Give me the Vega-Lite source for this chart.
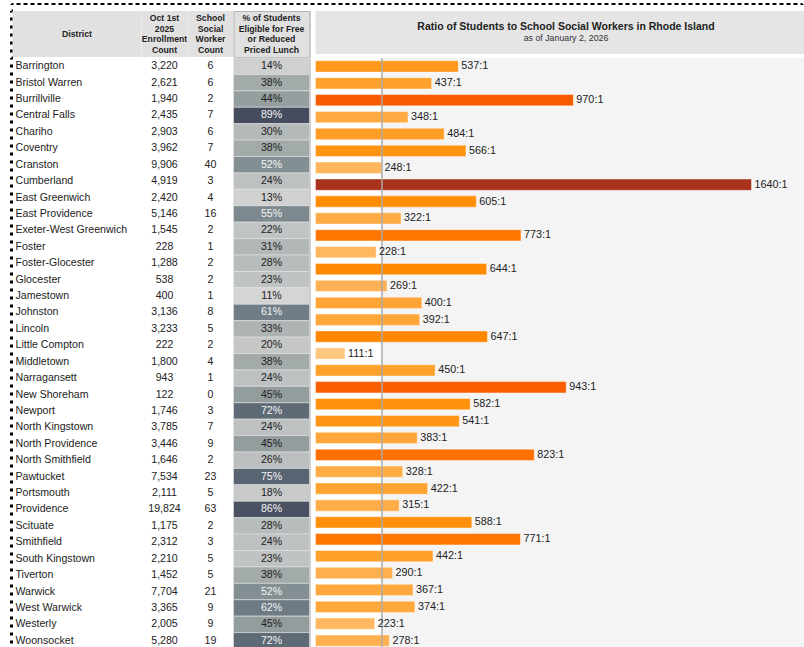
{
  "$schema": "https://vega.github.io/schema/vega-lite/v6.json",
  "padding": {"left": 9.5, "top": 3, "right": 0, "bottom": 0},
  "autosize": {"type": "pad"},
  "background": "white",
  "config": {"view": {"stroke": null}, "font": "Liberation Sans"},
  "datasets": {
    "districts": [
      {"District": "Barrington", "Enrollment": 3220, "Workers": 6, "FRPL": 0.14, "Ratio": 537, "Label": "537:1"},
      {"District": "Bristol Warren", "Enrollment": 2621, "Workers": 6, "FRPL": 0.38, "Ratio": 437, "Label": "437:1"},
      {"District": "Burrillville", "Enrollment": 1940, "Workers": 2, "FRPL": 0.44, "Ratio": 970, "Label": "970:1"},
      {"District": "Central Falls", "Enrollment": 2435, "Workers": 7, "FRPL": 0.89, "Ratio": 348, "Label": "348:1"},
      {"District": "Chariho", "Enrollment": 2903, "Workers": 6, "FRPL": 0.30, "Ratio": 484, "Label": "484:1"},
      {"District": "Coventry", "Enrollment": 3962, "Workers": 7, "FRPL": 0.38, "Ratio": 566, "Label": "566:1"},
      {"District": "Cranston", "Enrollment": 9906, "Workers": 40, "FRPL": 0.52, "Ratio": 248, "Label": "248:1"},
      {"District": "Cumberland", "Enrollment": 4919, "Workers": 3, "FRPL": 0.24, "Ratio": 1640, "Label": "1640:1"},
      {"District": "East Greenwich", "Enrollment": 2420, "Workers": 4, "FRPL": 0.13, "Ratio": 605, "Label": "605:1"},
      {"District": "East Providence", "Enrollment": 5146, "Workers": 16, "FRPL": 0.55, "Ratio": 322, "Label": "322:1"},
      {"District": "Exeter-West Greenwich", "Enrollment": 1545, "Workers": 2, "FRPL": 0.22, "Ratio": 773, "Label": "773:1"},
      {"District": "Foster", "Enrollment": 228, "Workers": 1, "FRPL": 0.31, "Ratio": 228, "Label": "228:1"},
      {"District": "Foster-Glocester", "Enrollment": 1288, "Workers": 2, "FRPL": 0.28, "Ratio": 644, "Label": "644:1"},
      {"District": "Glocester", "Enrollment": 538, "Workers": 2, "FRPL": 0.23, "Ratio": 269, "Label": "269:1"},
      {"District": "Jamestown", "Enrollment": 400, "Workers": 1, "FRPL": 0.11, "Ratio": 400, "Label": "400:1"},
      {"District": "Johnston", "Enrollment": 3136, "Workers": 8, "FRPL": 0.61, "Ratio": 392, "Label": "392:1"},
      {"District": "Lincoln", "Enrollment": 3233, "Workers": 5, "FRPL": 0.33, "Ratio": 647, "Label": "647:1"},
      {"District": "Little Compton", "Enrollment": 222, "Workers": 2, "FRPL": 0.20, "Ratio": 111, "Label": "111:1"},
      {"District": "Middletown", "Enrollment": 1800, "Workers": 4, "FRPL": 0.38, "Ratio": 450, "Label": "450:1"},
      {"District": "Narragansett", "Enrollment": 943, "Workers": 1, "FRPL": 0.24, "Ratio": 943, "Label": "943:1"},
      {"District": "New Shoreham", "Enrollment": 122, "Workers": 0, "FRPL": 0.45, "Ratio": null, "Label": ""},
      {"District": "Newport", "Enrollment": 1746, "Workers": 3, "FRPL": 0.72, "Ratio": 582, "Label": "582:1"},
      {"District": "North Kingstown", "Enrollment": 3785, "Workers": 7, "FRPL": 0.24, "Ratio": 541, "Label": "541:1"},
      {"District": "North Providence", "Enrollment": 3446, "Workers": 9, "FRPL": 0.45, "Ratio": 383, "Label": "383:1"},
      {"District": "North Smithfield", "Enrollment": 1646, "Workers": 2, "FRPL": 0.26, "Ratio": 823, "Label": "823:1"},
      {"District": "Pawtucket", "Enrollment": 7534, "Workers": 23, "FRPL": 0.75, "Ratio": 328, "Label": "328:1"},
      {"District": "Portsmouth", "Enrollment": 2111, "Workers": 5, "FRPL": 0.18, "Ratio": 422, "Label": "422:1"},
      {"District": "Providence", "Enrollment": 19824, "Workers": 63, "FRPL": 0.86, "Ratio": 315, "Label": "315:1"},
      {"District": "Scituate", "Enrollment": 1175, "Workers": 2, "FRPL": 0.28, "Ratio": 588, "Label": "588:1"},
      {"District": "Smithfield", "Enrollment": 2312, "Workers": 3, "FRPL": 0.24, "Ratio": 771, "Label": "771:1"},
      {"District": "South Kingstown", "Enrollment": 2210, "Workers": 5, "FRPL": 0.23, "Ratio": 442, "Label": "442:1"},
      {"District": "Tiverton", "Enrollment": 1452, "Workers": 5, "FRPL": 0.38, "Ratio": 290, "Label": "290:1"},
      {"District": "Warwick", "Enrollment": 7704, "Workers": 21, "FRPL": 0.52, "Ratio": 367, "Label": "367:1"},
      {"District": "West Warwick", "Enrollment": 3365, "Workers": 9, "FRPL": 0.62, "Ratio": 374, "Label": "374:1"},
      {"District": "Westerly", "Enrollment": 2005, "Workers": 9, "FRPL": 0.45, "Ratio": 223, "Label": "223:1"},
      {"District": "Woonsocket", "Enrollment": 5280, "Workers": 19, "FRPL": 0.72, "Ratio": 278, "Label": "278:1"}
    ]
  },
  "spacing": 3,
  "resolve": {"scale": {"color": "independent"}},
  "vconcat": [
    {
      "width": 791, "height": 0.001,
      "data": {"values": []},
      "mark": {"type": "text"},
      "encoding": {"text": {"value": ""}},
      "view": {"stroke": "black", "strokeWidth": 2, "strokeDash": [2, 5]}
    },
    {
      "spacing": -2,
      "resolve": {"scale": {"color": "independent"}},
      "vconcat": [
        {
          "spacing": 0,
          "bounds": "flush",
          "hconcat": [
            {
              "width": 0.001, "height": 40,
              "data": {"values": []},
              "mark": {"type": "text"},
              "encoding": {"text": {"value": ""}},
              "view": {"stroke": "black", "strokeWidth": 3, "strokeDash": [1.5, 6.5]}
            },
            {
              "width": 129, "height": 46,
              "data": {"values": [{"t": "District"}]},
              "mark": {"type": "text", "fontWeight": "bold", "fontSize": 8.7, "color": "#222"},
              "encoding": {"text": {"field": "t"}},
              "view": {"fill": "#e1e1e1"}
            },
            {
              "width": 46, "height": 46,
              "data": {"values": [{"t": "Oct 1st\n2025\nEnrollment\nCount"}]},
              "mark": {"type": "text", "fontWeight": "bold", "fontSize": 8.7, "lineHeight": 10.5, "lineBreak": "\n", "dy": -16, "color": "#222"},
              "encoding": {"text": {"field": "t"}},
              "view": {"fill": "#e1e1e1"}
            },
            {
              "width": 46, "height": 46,
              "data": {"values": [{"t": "School\nSocial\nWorker\nCount"}]},
              "mark": {"type": "text", "fontWeight": "bold", "fontSize": 8.7, "lineHeight": 10.5, "lineBreak": "\n", "dy": -16, "color": "#222"},
              "encoding": {"text": {"field": "t"}},
              "view": {"fill": "#e1e1e1"}
            },
            {
              "width": 76, "height": 46,
              "data": {"values": [{"t": "% of Students\nEligible for Free\nor Reduced\nPriced Lunch"}]},
              "mark": {"type": "text", "fontWeight": "bold", "fontSize": 8.7, "lineHeight": 10.5, "lineBreak": "\n", "dy": -16, "color": "#222"},
              "encoding": {"text": {"field": "t"}},
              "view": {"fill": "#e0e0e0", "stroke": "#b4b4b4", "strokeWidth": 1}
            },
            {
              "width": 0.001, "height": 46,
              "data": {"values": []},
              "mark": {"type": "text"},
              "encoding": {"text": {"value": ""}},
              "view": {"stroke": "#c4c4c4", "strokeWidth": 1}
            },
            {
              "width": 5, "height": 46,
              "data": {"values": []},
              "mark": {"type": "text"},
              "encoding": {"text": {"value": ""}}
            },
            {
              "width": 491, "height": 43,
              "data": {"values": [{"t": "Ratio of Students to School Social Workers in Rhode Island", "s": "as of January 2, 2026"}]},
              "view": {"fill": "#e5e5e5"},
              "layer": [
                {
                  "mark": {"type": "text", "fontWeight": "bold", "fontSize": 10.5, "color": "#222", "dy": -5.5, "dx": 5},
                  "encoding": {"text": {"field": "t"}}
                },
                {
                  "mark": {"type": "text", "fontSize": 8.8, "color": "#333", "dy": 5.5, "dx": 5},
                  "encoding": {"text": {"field": "s"}}
                }
              ]
            }
          ]
        },
        {
          "spacing": 0,
          "bounds": "flush",
          "resolve": {"scale": {"color": "independent"}},
          "hconcat": [
            {
              "width": 0.001, "height": 584,
              "data": {"values": []},
              "mark": {"type": "text"},
              "encoding": {"text": {"value": ""}},
              "view": {"stroke": "black", "strokeWidth": 3, "strokeDash": [1.5, 6.5]}
            },
            {
              "width": 129, "height": 591,
              "data": {"name": "districts"},
              "mark": {"type": "text", "align": "left", "fontSize": 10.6, "color": "#222"},
              "encoding": {
                "y": {"field": "District", "type": "nominal", "sort": null, "axis": null, "scale": {"type": "band", "paddingInner": 0, "paddingOuter": 0}},
                "x": {"value": 3},
                "text": {"field": "District"}
              }
            },
            {
              "width": 46, "height": 591,
              "data": {"name": "districts"},
              "mark": {"type": "text", "fontSize": 10.6, "color": "#222"},
              "encoding": {
                "y": {"field": "District", "type": "nominal", "sort": null, "axis": null, "scale": {"type": "band", "paddingInner": 0, "paddingOuter": 0}},
                "text": {"field": "Enrollment", "type": "quantitative", "format": ","}
              }
            },
            {
              "width": 46, "height": 591,
              "data": {"name": "districts"},
              "mark": {"type": "text", "fontSize": 10.6, "color": "#222"},
              "encoding": {
                "y": {"field": "District", "type": "nominal", "sort": null, "axis": null, "scale": {"type": "band", "paddingInner": 0, "paddingOuter": 0}},
                "text": {"field": "Workers", "type": "quantitative"}
              }
            },
            {
              "width": 76, "height": 591,
              "data": {"name": "districts"},
              "encoding": {
                "y": {"field": "District", "type": "nominal", "sort": null, "axis": null, "scale": {"type": "band", "paddingInner": 0, "paddingOuter": 0}}
              },
              "layer": [
                {
                  "mark": {"type": "rect", "stroke": "#e4e4e4", "strokeWidth": 0.6},
                  "encoding": {
                    "color": {"field": "FRPL", "type": "quantitative", "legend": null,
                      "scale": {"domain": [0.11, 0.3, 0.45, 0.6, 0.89], "range": ["#d4d4d4", "#b4b9b9", "#949d9d", "#737f87", "#454c5e"]}}
                  }
                },
                {
                  "mark": {"type": "text", "fontSize": 10.6},
                  "encoding": {
                    "text": {"field": "FRPL", "type": "quantitative", "format": ".0%"},
                    "color": {"condition": {"test": "datum.FRPL >= 0.5", "value": "#f4f4f4"}, "value": "#222"}
                  }
                }
              ]
            },
            {
              "width": 0.001, "height": 591,
              "data": {"values": []},
              "mark": {"type": "text"},
              "encoding": {"text": {"value": ""}},
              "view": {"stroke": "#c4c4c4", "strokeWidth": 1}
            },
            {
              "width": 5, "height": 591,
              "data": {"values": []},
              "mark": {"type": "text"},
              "encoding": {"text": {"value": ""}}
            },
            {
              "width": 491, "height": 591,
              "view": {"fill": "#f4f4f4"},
              "layer": [
                {
                  "data": {"values": [{}]},
                  "mark": {"type": "rect", "color": "white"},
                  "encoding": {
                    "x": {"datum": 0, "type": "quantitative", "scale": {"domain": [0, 1847], "nice": false}, "axis": null},
                    "x2": {"datum": 250}
                  }
                },
                {
                  "data": {"name": "districts"},
                  "transform": [{"filter": "datum.Ratio != null"}],
                  "mark": {"type": "bar", "stroke": "#ffffff", "strokeWidth": 0.6, "strokeOpacity": 0.7},
                  "encoding": {
                    "y": {"field": "District", "type": "nominal", "sort": null, "axis": null, "scale": {"type": "band", "paddingInner": 0.33, "paddingOuter": 0.165}},
                    "x": {"field": "Ratio", "type": "quantitative", "axis": null},
                    "color": {"field": "Ratio", "type": "quantitative", "legend": null,
                      "scale": {"domain": [111, 300, 450, 620, 800, 970, 1640], "range": ["#ffc680", "#ffae4c", "#ffa12a", "#ff8c00", "#ff7300", "#f85a00", "#a8321a"]}}
                  }
                },
                {
                  "data": {"values": [{}]},
                  "mark": {"type": "rule", "color": "#aaaaaa", "strokeWidth": 1.5},
                  "encoding": {"x": {"datum": 250, "type": "quantitative"}}
                },
                {
                  "data": {"name": "districts"},
                  "transform": [{"filter": "datum.Ratio != null"}],
                  "mark": {"type": "text", "align": "left", "dx": 3, "fontSize": 10.8, "color": "#222"},
                  "encoding": {
                    "y": {"field": "District", "type": "nominal", "sort": null, "axis": null},
                    "x": {"field": "Ratio", "type": "quantitative"},
                    "text": {"field": "Label"}
                  }
                }
              ]
            }
          ]
        }
      ]
    }
  ]
}
